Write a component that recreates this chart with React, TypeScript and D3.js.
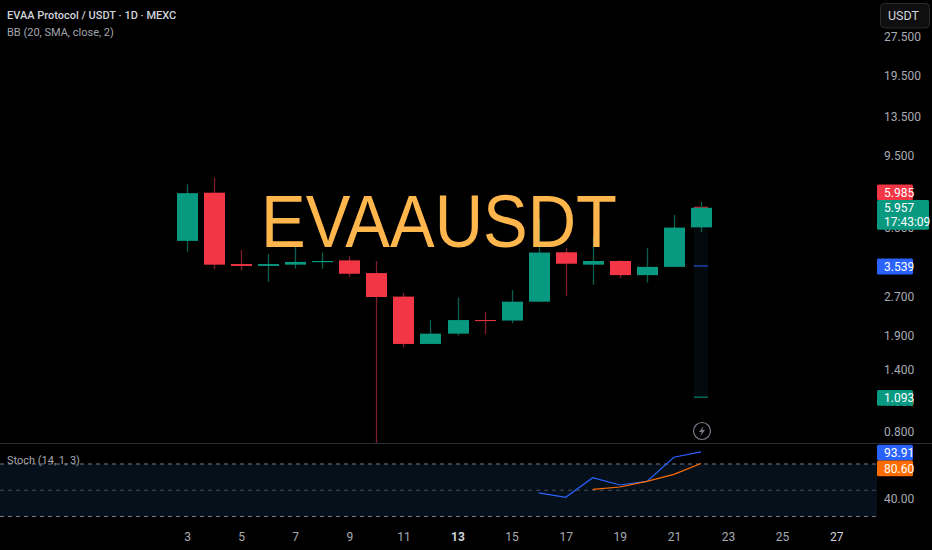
import React, { useEffect, useRef } from 'react';
import * as d3 from 'd3';

const days = [3, 4, 5, 6, 7, 8, 9, 10, 11, 12, 13, 14, 15, 16, 17, 18, 19, 20, 21, 22];
const opens = [4.43, 6.82, 3.6, 3.54, 3.58, 3.66, 3.72, 3.32, 2.69, 1.76, 1.93, 2.18, 2.17, 2.57, 4.0, 3.58, 3.7, 3.26, 3.51, 5.0];
const highs = [7.35, 7.8, 4.08, 3.94, 4.31, 3.99, 3.86, 3.7, 2.78, 2.18, 2.67, 2.35, 2.85, 5.38, 4.15, 4.63, 3.73, 4.15, 5.59, 6.28];
const lows = [4.02, 3.44, 3.39, 3.07, 3.45, 3.45, 3.2, 0.725, 1.71, 1.76, 1.9, 1.92, 2.12, 2.57, 2.71, 2.99, 3.17, 3.05, 3.51, 4.8];
const closes = [6.79, 3.58, 3.54, 3.6, 3.67, 3.7, 3.3, 2.68, 1.76, 1.93, 2.18, 2.17, 2.57, 3.99, 3.61, 3.7, 3.26, 3.51, 4.99, 5.957];

const stochDays = [16, 17, 18, 19, 20, 21, 22];
const stochK = [46.9, 41.9, 64.3, 56.0, 60.2, 87.7, 93.91];
const signalDays = [18, 19, 20, 21, 22];
const stochD = [51.1, 53.7, 60.2, 68.2, 80.6];
const bandLevels = [80, 50, 20];

const bbLast = { upper: 5.985, basis: 3.539, lower: 1.093 };

const priceTicks = [27.5, 19.5, 13.5, 9.5, 5, 2.7, 1.9, 1.4, 1.05, 0.8];
const dayTicks = [3, 5, 7, 9, 11, 13, 15, 17, 19, 21, 23, 25, 27];

const up = '#089981';
const down = '#f23645';
const upWick = '#07604f';
const downWick = '#7f1d28';
const axisText = '#a8abb3';
const font = 'Roboto, "Open Sans", sans-serif';
const axisFont = '"Liberation Sans Narrow", Roboto, sans-serif';

const App: React.FC = () => {
  const svgRef = useRef<SVGSVGElement>(null);

  useEffect(() => {
    const svg = d3.select(svgRef.current);
    svg.selectAll('*').remove();

    const axisX = 877;

    const x = d3.scaleLinear().domain([3, 27]).range([187, 836.2]);
    const y = d3.scaleLog().domain([27.5, 0.8]).range([37, 432]);
    const yStoch = d3.scaleLinear().domain([20, 80]).range([516.5, 464]);

    svg.append('rect').attr('width', 932).attr('height', 550).attr('fill', '#000');

    svg.append('defs').append('clipPath').attr('id', 'pricePane')
      .append('rect').attr('width', axisX).attr('height', 443);

    const pane = svg.append('g').attr('clip-path', 'url(#pricePane)');

    // BB column on the last bar
    const bbX = x(22);
    pane.append('rect')
      .attr('x', bbX - 7).attr('width', 14)
      .attr('y', y(bbLast.upper)).attr('height', y(bbLast.lower) - y(bbLast.upper))
      .attr('fill', '#030a0e');
    const bbLines = [
      { v: bbLast.upper, c: down },
      { v: bbLast.basis, c: '#2962ff' },
      { v: bbLast.lower, c: up },
    ];
    bbLines.forEach(l => {
      pane.append('line')
        .attr('x1', bbX - 7).attr('x2', bbX + 7)
        .attr('y1', y(l.v)).attr('y2', y(l.v))
        .attr('stroke', l.c).attr('stroke-width', 1);
    });

    // Candles
    days.forEach((d, i) => {
      const isUp = closes[i] >= opens[i];
      const cx = Math.round(x(d)) + 0.5;
      pane.append('line')
        .attr('x1', cx).attr('x2', cx)
        .attr('y1', y(highs[i])).attr('y2', y(lows[i]))
        .attr('stroke', isUp ? upWick : downWick).attr('stroke-width', 1.3);
      const top = y(Math.max(opens[i], closes[i]));
      const bot = y(Math.min(opens[i], closes[i]));
      pane.append('rect')
        .attr('x', cx - 10.5).attr('width', 21)
        .attr('y', top).attr('height', Math.max(bot - top, 1))
        .attr('fill', isUp ? up : down);
    });

    // Watermark
    svg.append('text')
      .attr('x', 261).attr('y', 247)
      .attr('font-family', '"Liberation Sans", Arial, sans-serif')
      .attr('font-size', 75)
      .attr('textLength', 356)
      .attr('lengthAdjust', 'spacingAndGlyphs')
      .attr('fill', '#ffb74d')
      .text('EVAAUSDT');

    // Legend
    svg.append('text').attr('x', 7).attr('y', 19)
      .attr('font-family', font).attr('font-size', 11).attr('font-weight', 500)
      .attr('fill', '#d1d4dc').text('EVAA Protocol / USDT · 1D · MEXC');
    svg.append('text').attr('x', 7).attr('y', 36)
      .attr('font-family', font).attr('font-size', 11)
      .attr('fill', '#a3a6af').text('BB (20, SMA, close, 2)');

    // Price axis
    const yAxis = svg.append('g')
      .attr('transform', `translate(${axisX},0)`)
      .call(d3.axisRight(y).tickValues(priceTicks).tickSize(0).tickPadding(7)
        .tickFormat((d: any) => d3.format('.3f')(d)));
    yAxis.select('.domain').remove();
    yAxis.selectAll('text').attr('font-family', axisFont).attr('font-size', 12).attr('fill', axisText);

    // Stochastic pane
    svg.append('line').attr('x1', 0).attr('x2', 932).attr('y1', 443.5).attr('y2', 443.5)
      .attr('stroke', '#2a2e39');
    svg.append('rect')
      .attr('x', 0).attr('width', axisX)
      .attr('y', yStoch(80)).attr('height', yStoch(20) - yStoch(80))
      .attr('fill', '#05101a');
    bandLevels.forEach(level => {
      svg.append('line')
        .attr('x1', 0).attr('x2', axisX)
        .attr('y1', yStoch(level)).attr('y2', yStoch(level))
        .attr('stroke', level === 50 ? '#4a4f5a' : '#787b86')
        .attr('stroke-dasharray', '4 4');
    });
    const kLine = d3.line<number>().x((_, i) => x(stochDays[i])).y(v => yStoch(v));
    const dLine = d3.line<number>().x((_, i) => x(signalDays[i])).y(v => yStoch(v));
    svg.append('path').attr('d', kLine(stochK)).attr('fill', 'none').attr('stroke', '#2962ff').attr('stroke-width', 1.2);
    svg.append('path').attr('d', dLine(stochD)).attr('fill', 'none').attr('stroke', '#ff6d00').attr('stroke-width', 1.2);

    svg.append('text').attr('x', 7).attr('y', 464)
      .attr('font-family', font).attr('font-size', 11)
      .attr('fill', '#a3a6af').text('Stoch (14, 1, 3)');

    const stochAxis = svg.append('g')
      .attr('transform', `translate(${axisX},0)`)
      .call(d3.axisRight(yStoch).tickValues([40]).tickSize(0).tickPadding(7)
        .tickFormat((d: any) => d3.format('.2f')(d)));
    stochAxis.select('.domain').remove();
    stochAxis.selectAll('text').attr('font-family', axisFont).attr('font-size', 12).attr('fill', axisText);

    // Time axis
    const xAxis = svg.append('g')
      .attr('transform', 'translate(0,530)')
      .call(d3.axisBottom(x).tickValues(dayTicks).tickSize(0).tickPadding(2).tickFormat((d: any) => String(d)));
    xAxis.select('.domain').remove();
    xAxis.selectAll('text')
      .attr('font-family', axisFont).attr('font-size', 12)
      .attr('fill', (d: any) => (d === 13 || d === 27 ? '#d1d4dc' : axisText))
      .attr('font-weight', (d: any) => (d === 13 ? 700 : 400));

    // Value tags on the axis
    const tag = (top: number, bottom: number, width: number, fill: string, lines: string[]) => {
      svg.append('rect')
        .attr('x', axisX).attr('y', top).attr('width', width).attr('height', bottom - top)
        .attr('rx', 1.5).attr('fill', fill);
      lines.forEach((t, i) => {
        svg.append('text')
          .attr('x', axisX + 7).attr('y', top + 12 + i * 14)
          .attr('font-family', axisFont).attr('font-size', 12)
          .attr('fill', '#fff').text(t);
      });
    };
    tag(184.5, 200, 36, down, [d3.format('.3f')(bbLast.upper)]);
    tag(200, 229.7, 52, up, [d3.format('.3f')(closes[closes.length - 1]), '17:43:09']);
    tag(258.5, 274.5, 36, '#2962ff', [d3.format('.3f')(bbLast.basis)]);
    tag(390, 405.7, 36, up, [d3.format('.3f')(bbLast.lower)]);
    tag(444.7, 460.5, 36, '#2962ff', [d3.format('.2f')(stochK[stochK.length - 1])]);
    tag(460.5, 476.3, 36, '#ff6d00', [d3.format('.2f')(stochD[stochD.length - 1])]);

    // Currency button
    svg.append('rect').attr('x', 880.5).attr('y', 3.5).attr('width', 49).attr('height', 24.5).attr('rx', 4)
      .attr('fill', '#0f0f0f').attr('stroke', '#2a2a2a');
    svg.append('text').attr('x', 888).attr('y', 20)
      .attr('font-family', axisFont).attr('font-size', 12.5).attr('fill', '#d1d4dc').text('USDT');

    // Lightning badge
    const badge = svg.append('g').attr('transform', 'translate(702,431)');
    badge.append('circle').attr('r', 8.5).attr('fill', '#000').attr('stroke', '#787b86').attr('stroke-width', 1.2);
    badge.append('path').attr('d', 'M1.5,-5 L-3,1 L-0.3,1 L-1.5,5 L3,-1 L0.3,-1 Z').attr('fill', '#787b86');
  }, []);

  return <svg ref={svgRef} width={932} height={550} style={{ position: 'absolute', left: 0, top: 0 }} />;
};

export default App;
